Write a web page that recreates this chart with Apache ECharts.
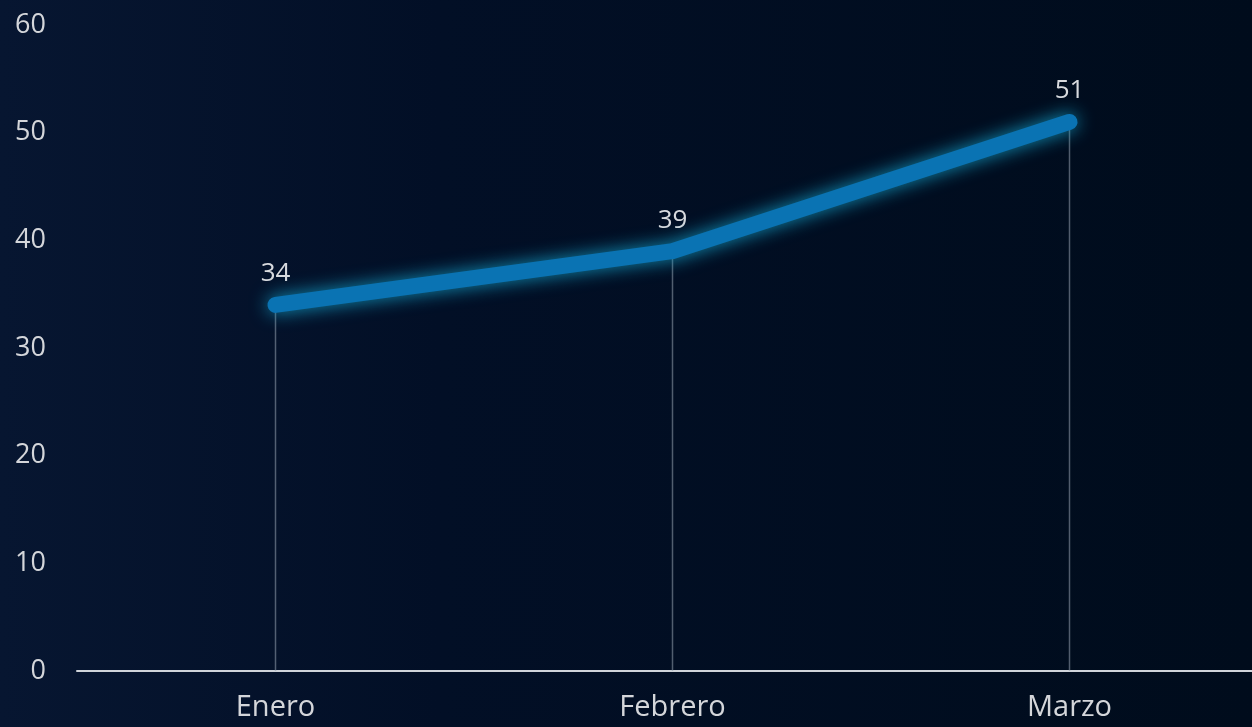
<!DOCTYPE html>
<html>
<head>
<meta charset="utf-8">
<script src="https://cdn.jsdelivr.net/npm/echarts@6/dist/echarts.min.js"></script>
<style>
html,body{margin:0;padding:0;background:#010d1f;}
#c{width:1252px;height:727px;}
</style>
</head>
<body>
<div id="c"></div>
<script>
var categories = ['Enero', 'Febrero', 'Marzo'];
var values = [34, 39, 51];
var yTicks = { min: 0, max: 60, interval: 10 };

var chart = echarts.init(document.getElementById('c'));
var FONT = 'Open Sans';
chart.setOption({
  backgroundColor: {
    type: 'linear', x: 0, y: 0, x2: 1, y2: 0,
    colorStops: [
      { offset: 0, color: '#071631' },
      { offset: 0.35, color: '#020f26' },
      { offset: 1, color: '#000c1c' }
    ]
  },
  animation: false,
  grid: { left: 77, width: 1191, top: 25, bottom: 56, containLabel: false, outerBoundsMode: 'none' },
  xAxis: {
    type: 'category',
    data: categories,
    boundaryGap: true,
    axisLine: { show: true, lineStyle: { color: '#d0d4da', width: 2 } },
    axisTick: { show: false },
    splitLine: { show: false },
    axisLabel: { color: '#d4d6da', fontSize: 29, fontFamily: FONT, margin: 22 }
  },
  yAxis: {
    type: 'value',
    min: yTicks.min, max: yTicks.max, interval: yTicks.interval,
    axisLine: { show: false },
    axisTick: { show: false },
    splitLine: { show: false },
    axisLabel: { color: '#d4d6da', fontSize: 27, fontFamily: FONT, margin: 31, align: 'right' }
  },
  series: [
    {
      type: 'bar',
      data: values,
      barWidth: 1.5,
      itemStyle: { color: 'rgba(150,160,175,0.55)' },
      silent: true,
      z: 1,
      label: {
        show: true,
        position: 'top',
        distance: 18,
        color: '#d8dade',
        fontSize: 26,
        fontFamily: FONT
      }
    },
    {
      type: 'line',
      data: values,
      showSymbol: false,
      symbol: 'none',
      z: 3,
      lineStyle: {
        color: '#0a73b3',
        width: 16,
        cap: 'round',
        join: 'round',
        shadowColor: 'rgba(20,160,200,0.9)',
        shadowBlur: 18
      }
    }
  ]
});
</script>
</body>
</html>
